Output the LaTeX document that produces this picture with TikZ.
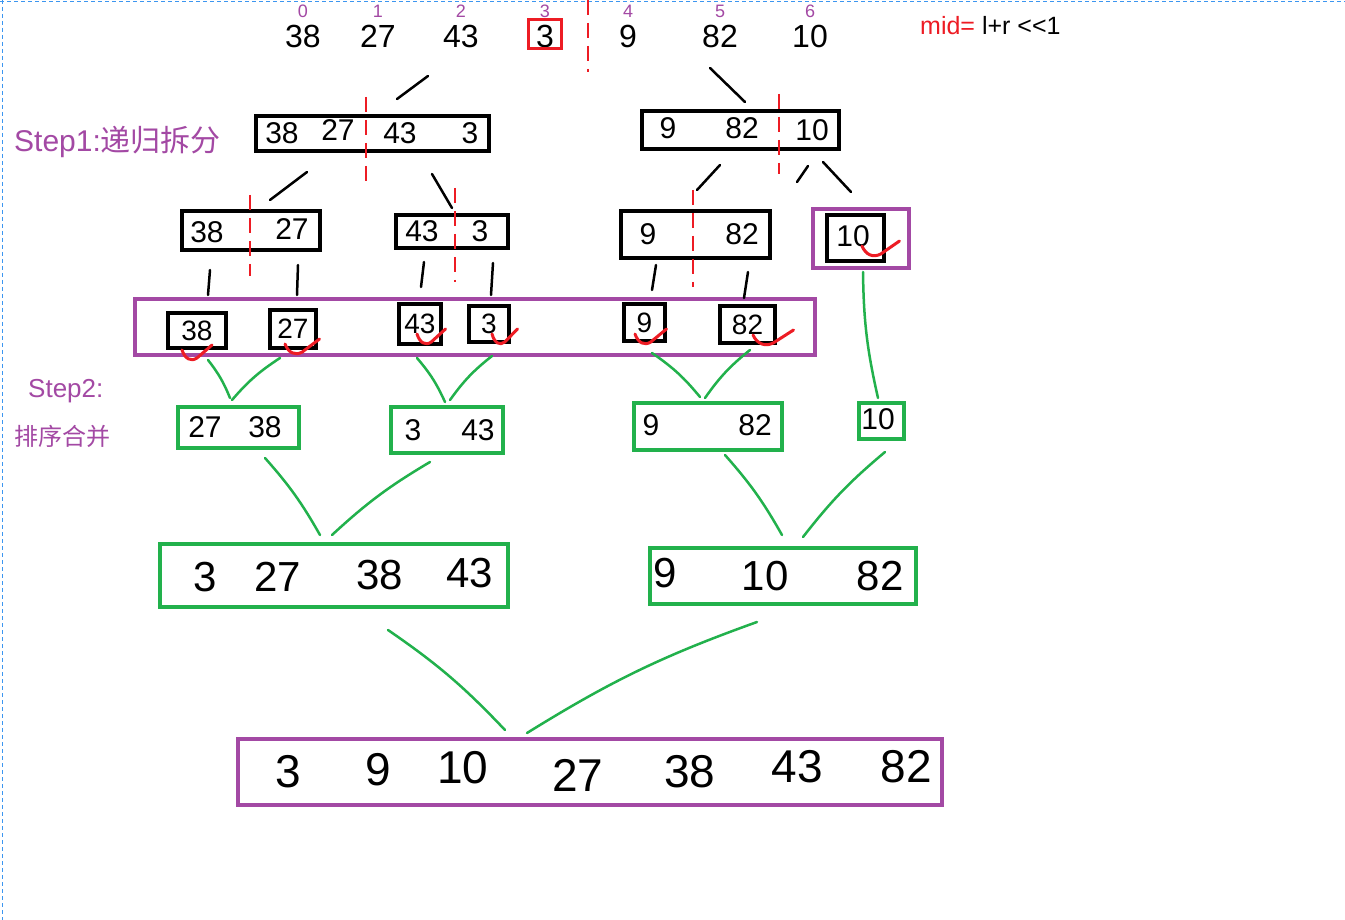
\documentclass[tikz,border=0pt]{standalone}
\usepackage{fontspec}
\setmainfont{Liberation Sans}
\newfontfamily\cjk{Noto Sans CJK SC}
\usetikzlibrary{calc}
\definecolor{pPurple}{RGB}{163,73,164}
\definecolor{pGreen}{RGB}{34,177,76}
\definecolor{pRed}{RGB}{237,28,36}
\definecolor{pFrame}{RGB}{60,150,240}
\tikzstyle{blackbox} = [draw=black, line width=4pt, rectangle, inner sep=0pt]
\tikzstyle{greenbox} = [draw=pGreen, line width=4pt, rectangle, inner sep=0pt]
\tikzstyle{purplebox} = [draw=pPurple, line width=4pt, rectangle, inner sep=0pt]
\tikzstyle{num} = [inner sep=0pt, font=\fontsize{30}{30}\selectfont]
\tikzstyle{bignum} = [inner sep=0pt, font=\fontsize{46}{46}\selectfont]
\tikzstyle{idx} = [inner sep=0pt, text=pPurple, font=\fontsize{18}{18}\selectfont]
\tikzstyle{cut} = [draw=pRed, line width=2.5pt, dash pattern=on 15pt off 8pt]
\tikzstyle{stroke} = [draw=black, line width=2.5pt, line cap=round]
\tikzstyle{merge} = [draw=pGreen, line width=2.5pt, line cap=round]
\tikzstyle{frame} = [draw=pFrame, line width=1pt, dash pattern=on 4pt off 3pt]
\tikzset{okmark/.pic={\draw[pRed, line width=3pt, line cap=round, line join=round]
  (0,0) .. controls (3,9) and (9,12) .. (15,8) -- (30,-5);}}

\begin{document}
\begin{tikzpicture}[x=1pt, y=-1pt]
  \useasboundingbox[fill=white] (0,0) rectangle (1345,920);
  \draw[frame] (0,2) -- (1345,2);
  \draw[frame] (2,0) -- (2,920);

  % the array with its indices
  \foreach \v/\i/\x in {38/0/303, 27/1/378, 43/2/461, 3/3/545, 9/4/628, 82/5/720, 10/6/810} {
    \node[num, font=\fontsize{32}{32}\selectfont] (t\i) at (\x,36) {\v};
    \node[idx] (i\i) at (\x,11) {\i};
  }
  \node[draw=pRed, line width=3pt, minimum width=33pt, minimum height=29pt] (pick) at (545,34) {};
  \draw[cut] (588,0) -- (588,72);
  \node[anchor=west, inner sep=0pt, font=\fontsize{25}{25}\selectfont] (mid) at (920,26)
    {\textcolor{pRed}{mid=} l+r <{}<1};

  % step labels
  \node[anchor=west, inner sep=0pt, text=pPurple, font=\fontsize{30}{30}\selectfont] (step1) at (14,142)
    {Step1:{\cjk 递归拆分}};
  \node[anchor=west, inner sep=0pt, text=pPurple, font=\fontsize{26}{26}\selectfont] (step2) at (28,391)
    {Step2:};
  \node[anchor=west, inner sep=0pt, text=pPurple, font=\fontsize{24}{24}\selectfont\cjk] (step2b) at (14,436)
    {排序合并};

  % level 1
  \node[blackbox, minimum width=233pt, minimum height=35pt] (splitL) at (372.5,133.5) {};
  \node[blackbox, minimum width=197pt, minimum height=38pt] (splitR) at (740.5,130) {};
  \foreach \v/\x/\y in {38/282/133, 27/338/130, 43/400/133, 3/470/133, 9/668/128, 82/742/128, 10/812/130}
    \node[num] (a\v) at (\x,\y) {\v};
  \draw[cut] (366,97) -- (366,182);
  \draw[cut] (779,94) -- (779,174);

  % level 2
  \node[blackbox, minimum width=138pt, minimum height=39pt] (half38) at (251,230.5) {};
  \node[blackbox, minimum width=112pt, minimum height=33pt] (half43) at (452,231.5) {};
  \node[blackbox, minimum width=149pt, minimum height=47pt] (half9) at (695.5,234.5) {};
  \node[purplebox, minimum width=96pt, minimum height=59pt] (solo10) at (861,238.5) {};
  \node[blackbox, minimum width=57pt, minimum height=46pt] (cell10) at (855.5,238) {};
  \foreach \v/\x/\y in {38/207/232, 27/292/229, 43/422/231, 3/480/231, 9/648/234, 82/742/234, 10/853/236}
    \node[num] (b\v) at (\x,\y) {\v};
  \draw[cut] (250,195) -- (250,276);
  \draw[cut] (455,188) -- (455,282);
  \draw[cut] (693,190) -- (693,287);
  \pic[xscale=1.25] at (862,246) {okmark};

  % level 3: single elements
  \node[purplebox, minimum width=680pt, minimum height=56pt] (leaves) at (475,327) {};
  \foreach \v/\x/\y/\w/\h in {38/197/330.5/58/35, 27/293/329/46/38, 43/420/324/42/40,
                              3/489/324/40/36, 9/644.5/322.5/41/37, 82/747.5/324.5/55/37}
    \node[blackbox, num, font=\fontsize{28}{28}\selectfont, minimum width=\w pt, minimum height=\h pt] (leaf\v) at (\x,\y) {\v};
  \foreach \x/\y/\s in {182/350/1, 285/344/1.15, 417/334/0.95, 492/334/0.85, 635/334/1.05, 753/335/1.35}
    \pic[xscale=\s] at (\x,\y) {okmark};

  % level 4
  \node[greenbox, minimum width=121pt, minimum height=41pt] (merge2738) at (238.5,427.5) {};
  \node[greenbox, minimum width=112pt, minimum height=46pt] (merge343) at (447,430) {};
  \node[greenbox, minimum width=148pt, minimum height=47pt] (merge982) at (708,426.5) {};
  \node[greenbox, minimum width=45pt, minimum height=36pt] (merge10) at (881.5,421) {};
  \foreach \n/\v/\x/\y in {c1/27/205/427, c2/38/265/427, c3/3/413/430, c4/43/478/430,
                           c5/9/651/425, c6/82/755/425, c7/10/878/419}
    \node[num] (\n) at (\x,\y) {\v};

  % level 5
  \node[greenbox, minimum width=348pt, minimum height=63pt] (sortL) at (334,575.5) {};
  \node[greenbox, minimum width=266pt, minimum height=56pt] (sortR) at (783,576) {};
  \foreach \n/\v/\x/\y in {d1/3/205/577, d2/27/278/577, d3/38/380/575, d4/43/470/573,
                           d5/9/665/573, d6/10/765/576, d7/82/880/576}
    \node[bignum, font=\fontsize{42}{42}\selectfont] (\n) at (\x,\y) {\v};

  % result
  \node[purplebox, minimum width=704pt, minimum height=66pt] (result) at (590,772) {};
  \foreach \n/\v/\x/\y in {r1/3/288/772, r2/9/378/770, r3/10/463/768, r4/27/578/775,
                           r5/38/690/772, r6/43/797/767, r7/82/906/767}
    \node[bignum] (\n) at (\x,\y) {\v};

  % splitting strokes
  \foreach \n/\xa/\ya/\xb/\yb in {s1/428/76/397/99, s2/710/68/745/102,
      s3/307/172/270/200, s4/432/174/452/208, s5/720/165/697/190, s6/808/166/797/182, s7/823/162/851/192,
      s8/210/270/208/295, s9/298/265/297/295, s10/424/262/421/287, s11/493/263/491/295,
      s12/656/265/652/290, s13/748/272/744/298} {
    \coordinate (\n a) at (\xa,\ya);
    \coordinate (\n b) at (\xb,\yb);
    \draw[stroke] (\n a) -- (\n b);
  }

  % merging strokes
  \foreach \n/\xa/\ya/\xb/\yb/\bd in {m1/208/360/230/398/8, m2/280/358/232/400/-8,
      m3/417/358/445/402/8, m4/492/356/450/400/-8, m5/652/353/700/397/8, m6/750/350/705/398/-8,
      m7/863/272/878/398/-6, m8/265/458/320/535/6, m9/430/462/332/535/-6,
      m10/725/455/782/535/6, m11/885/452/803/537/-6, m12/388/630/505/730/6, m13/757/622/527/733/-6} {
    \coordinate (\n a) at (\xa,\ya);
    \coordinate (\n b) at (\xb,\yb);
    \draw[merge] (\n a) to[bend left=\bd] (\n b);
  }
\end{tikzpicture}
\end{document}
